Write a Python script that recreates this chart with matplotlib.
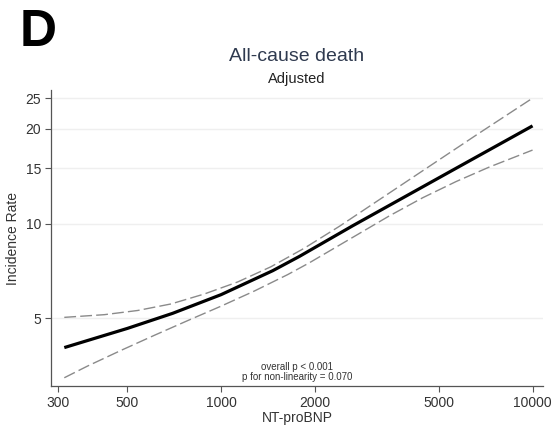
import matplotlib
matplotlib.use("Agg")
import matplotlib.pyplot as plt
from matplotlib.ticker import FixedLocator, FixedFormatter, NullLocator

plt.rcParams["font.family"] = ["Liberation Sans", "DejaVu Sans"]

# values
mean_x = [314, 501, 699, 1000, 1465, 1784, 2646, 3736, 5750, 7823, 10000]
mean_rate = [4.04, 4.65, 5.19, 5.95, 7.09, 7.87, 9.85, 11.91, 15.1, 17.88, 20.46]

upper_x = [314, 422, 540, 691, 884, 1131, 1447, 1851, 2398, 3470, 4595, 6665, 10000]
upper_rate = [5.04, 5.14, 5.30, 5.56, 5.98, 6.53, 7.30, 8.36, 9.81, 12.52, 15.07, 19.26, 25.06]

lower_x = [314, 373, 478, 611, 781, 1000, 1279, 1636, 1920, 2713, 3470, 4438, 5680, 7266, 10000]
lower_rate = [3.24, 3.53, 3.96, 4.42, 4.92, 5.47, 6.11, 6.89, 7.51, 9.18, 10.59, 12.09, 13.61, 15.14, 17.14]

x_ticks = [300, 500, 1000, 2000, 5000, 10000]
y_ticks = [5, 10, 15, 20, 25]

fig = plt.figure(figsize=(5.56, 4.30), dpi=100)
ax = fig.add_axes([0.0912, 0.1023, 0.977 - 0.0912, 0.7907 - 0.1023])

ax.set_xscale("log")
ax.set_yscale("log")
ax.set_xlim(284, 10820)
ax.set_ylim(3.05, 26.6)

for yv in y_ticks:
    ax.axhline(yv, color="#efefef", lw=1.0, zorder=0)

ax.plot(upper_x, upper_rate, color="#8a8a8a", lw=1.0, dashes=(8.5, 3))
ax.plot(lower_x, lower_rate, color="#8a8a8a", lw=1.0, dashes=(8.5, 3))
ax.plot(mean_x, mean_rate, color="black", lw=2.3, solid_capstyle="butt",
        solid_joinstyle="round")

ax.xaxis.set_major_locator(FixedLocator(x_ticks))
ax.xaxis.set_major_formatter(FixedFormatter([str(v) for v in x_ticks]))
ax.xaxis.set_minor_locator(NullLocator())
ax.yaxis.set_major_locator(FixedLocator(y_ticks))
ax.yaxis.set_major_formatter(FixedFormatter([str(v) for v in y_ticks]))
ax.yaxis.set_minor_locator(NullLocator())

for side in ["top", "right"]:
    ax.spines[side].set_visible(False)
for side in ["left", "bottom"]:
    ax.spines[side].set_color("#555555")
    ax.spines[side].set_linewidth(0.9)

ax.tick_params(axis="both", length=4, width=0.8, color="#555555",
               labelsize=10, labelcolor="#333333", pad=3)

ax.set_xlabel("NT-proBNP", fontsize=10, color="#333333", labelpad=1)
ax.set_ylabel("Incidence Rate", fontsize=10, color="#333333", labelpad=4)

ax.text(0.5, 0.012, "overall p < 0.001\np for non-linearity = 0.070",
        transform=ax.transAxes, ha="center", va="bottom", fontsize=7,
        color="#333333", linespacing=1.0)

fig.text(0.534, 0.857, "All-cause death", ha="center", va="baseline",
         fontsize=14, color="#2f3a4f")
fig.text(0.534, 0.808, "Adjusted", ha="center", va="baseline",
         fontsize=10.5, color="#222222")
fig.text(0.036, 0.893, "D", ha="left", va="baseline",
         fontsize=37, fontweight="bold", color="black")

fig.savefig("out.png", dpi=100)
